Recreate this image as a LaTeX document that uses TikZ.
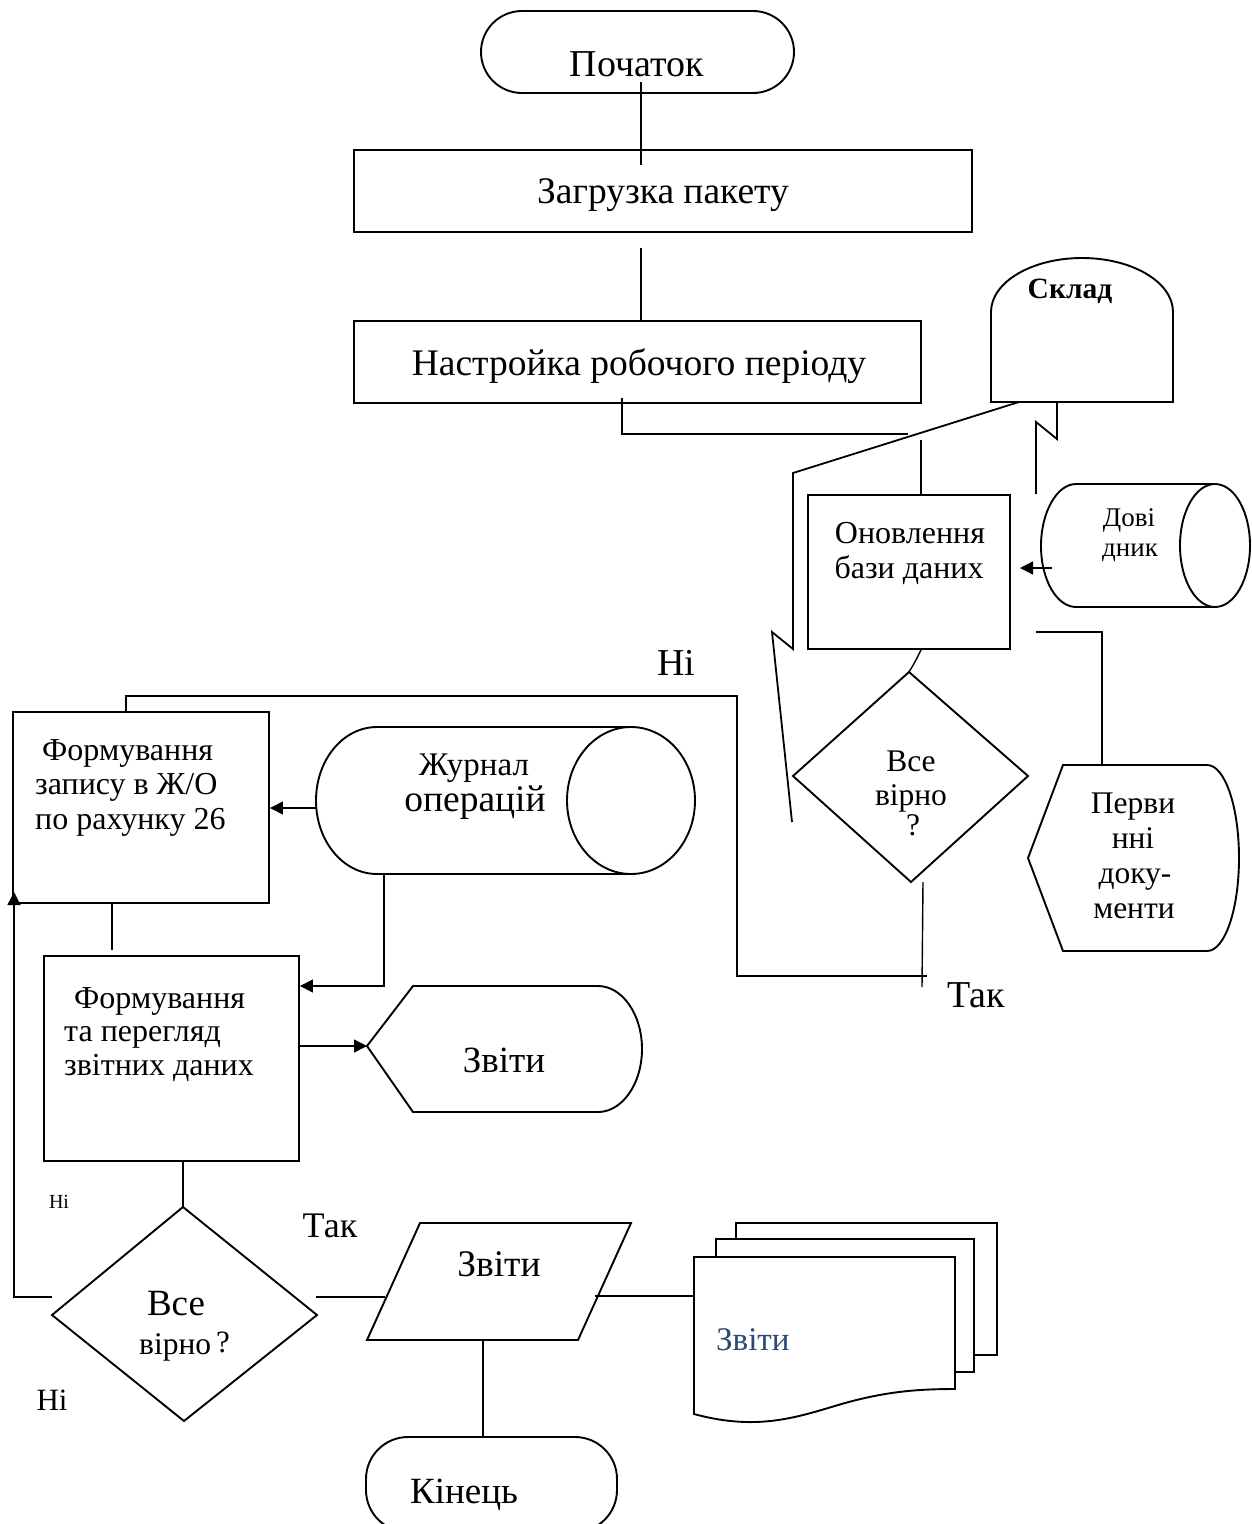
\documentclass[tikz,border=0pt]{standalone}
\usepackage{fontspec}
\setmainfont{Liberation Serif}
\usetikzlibrary{arrows.meta}
\definecolor{doctext}{RGB}{44,72,115}
\begin{document}
\begin{tikzpicture}[x=1pt,y=-1pt,
 shp/.style={draw, line width=1.9pt, line join=miter},
 boxn/.style={shp, inner sep=0pt},
 con/.style={draw, line width=1.4pt},
 conb/.style={draw, line width=1.8pt},
 arr/.style={con, -{Triangle[length=13pt,width=13pt]}},
 t/.style={inner sep=0pt, anchor=base, font=\fontsize{#1}{#1}\selectfont},
 tl/.style={inner sep=0pt, anchor=base west, font=\fontsize{#1}{#1}\selectfont},
]
\useasboundingbox (0,0) rectangle (1252,1524);

% ---------- shapes ----------
\node[boxn, minimum width=313pt, minimum height=82pt, rounded corners=41pt] (start) at (637.5,52) {};
\node[boxn, minimum width=618pt, minimum height=82pt] (zag) at (663,191) {};
\node[boxn, minimum width=567pt, minimum height=82pt] (nast) at (637.5,362) {};
\node[boxn, minimum width=202pt, minimum height=154pt] (onov) at (909,572) {};
\node[boxn, minimum width=256pt, minimum height=191pt] (fz) at (141,807.5) {};
\node[boxn, minimum width=255pt, minimum height=205pt] (fp) at (171.5,1058.5) {};
\node[boxn, minimum width=251pt, minimum height=95pt, rounded corners=42pt] (kin) at (491.5,1484.5) {};

% Sklad (storage, rounded top)
\draw[shp] (991,402) -- (991,312) .. controls (991,282) and (1032,258) .. (1082,258)
  .. controls (1132,258) and (1173,282) .. (1173,312) -- (1173,402) -- cycle;
% Dovidnyk cylinder
\draw[shp] (1215,484) -- (1076,484) .. controls (1057,484) and (1041,512) .. (1041,546)
  .. controls (1041,580) and (1057,607) .. (1076,607) -- (1215,607);
\draw[shp] (1215,545.5) ellipse [x radius=35pt, y radius=61.5pt];
% Zhurnal cylinder
\draw[shp] (631,727) -- (377,727) .. controls (343,727) and (316,760) .. (316,800.5)
  .. controls (316,841) and (343,874) .. (377,874) -- (631,874);
\draw[shp] (631,800.5) ellipse [x radius=64pt, y radius=73.5pt];
% Pervynni documenty (display)
\draw[shp] (1028,858) -- (1063,765) -- (1207,765) .. controls (1225,765) and (1239,807) .. (1239,858)
  .. controls (1239,909) and (1225,951) .. (1207,951) -- (1063,951) -- cycle;
% Zvity display
\draw[shp] (367,1046) -- (413,986) -- (598,986) .. controls (622,986) and (642,1014) .. (642,1049)
  .. controls (642,1084) and (622,1112) .. (598,1112) -- (413,1112) -- cycle;
% Diamond 1
\coordinate (d1t) at (909,672); \coordinate (d1r) at (1028,776);
\coordinate (d1b) at (911,882); \coordinate (d1l) at (793,776);
\draw[shp] (d1t) -- (d1r) -- (d1b) -- (d1l) -- cycle;
% Diamond 2
\coordinate (d2t) at (183,1207); \coordinate (d2r) at (317,1315);
\coordinate (d2b) at (184,1421); \coordinate (d2l) at (52,1315);
\draw[shp] (d2t) -- (d2r) -- (d2b) -- (d2l) -- cycle;
% Parallelogram
\draw[shp] (420,1223) -- (631,1223) -- (578,1340) -- (367,1340) -- cycle;
% Multi-document
\draw[shp, fill=white] (736,1223) rectangle (997,1355);
\draw[shp, fill=white] (716,1239) rectangle (974,1372);
\draw[shp, fill=white] (694,1257) -- (955,1257) -- (955,1389)
  .. controls (915,1389) and (885,1392) .. (845,1403)
  .. controls (800,1416) and (760,1432) .. (694,1414) -- cycle;

% ---------- connectors ----------
\coordinate (a1) at (641,82);   \coordinate (a2) at (641,165);
\draw[con] (a1) -- (a2);
\coordinate (b1) at (641,248);
\draw[con] (b1) -- (nast.north -| b1);
\coordinate (c1) at (622,398); \coordinate (c2) at (622,434); \coordinate (c3) at (908,434);
\draw[conb] (c1) -- (c2) -- (c3);
\coordinate (e1) at (921,440);
\draw[conb] (e1) -- (onov.north -| e1);
\coordinate (s1) at (1019,402); \coordinate (s2) at (793,473); \coordinate (s3) at (793,649);
\coordinate (s4) at (772,632); \coordinate (s5) at (792,822);
\draw[conb] (s1) -- (s2) -- (s3) -- (s4) -- (s5);
\coordinate (r1) at (1057,402); \coordinate (r2) at (1057,439); \coordinate (r3) at (1036,422);
\coordinate (r4) at (1036,494);
\draw[conb] (r1) -- (r2) -- (r3) -- (r4);
\coordinate (v1) at (1052,568); \coordinate (v2) at (1020,568);
\draw[arr] (v1) -- (v2);
\coordinate (p1) at (1036,632); \coordinate (p2) at (1102,632); \coordinate (p3) at (1102,765);
\draw[con] (p1) -- (p2) -- (p3);
\coordinate (o1) at (921,650);
\draw[con] (o1) .. controls (915,662) .. (d1t);
\coordinate (y1) at (923,882); \coordinate (y2) at (922,987);
\draw[con] (y1) -- (y2);
\coordinate (h1) at (927,976); \coordinate (h2) at (737,976); \coordinate (h3) at (737,696);
\coordinate (h4) at (126,696);
\draw[con] (h1) -- (h2) -- (h3) -- (h4) -- (fz.north -| h4);
\coordinate (j1) at (316,808);
\draw[arr] (j1) -- (fz.east |- j1);
\coordinate (j2) at (384,874); \coordinate (j3) at (384,986);
\draw[arr] (j2) -- (j3) -- (fp.east |- j3);
\coordinate (k1) at (112,950);
\draw[con] (fz.south -| k1) -- (k1);
\coordinate (m1) at (299,1046); \coordinate (m2) at (367,1046);
\draw[arr] (m1) -- (m2);
\coordinate (q1) at (183,1161);
\draw[con] (q1) -- (d2t);
\coordinate (l1) at (52,1297); \coordinate (l2) at (14,1297); \coordinate (l3) at (14,892);
\draw[arr] (l1) -- (l2) -- (l3);
\coordinate (g1) at (316,1297); \coordinate (g2) at (385,1297);
\draw[con] (g1) -- (g2);
\coordinate (g3) at (595,1296); \coordinate (g4) at (694,1296);
\draw[con] (g3) -- (g4);
\coordinate (w1) at (483,1340);
\draw[con] (w1) -- (kin.north -| w1);

% ---------- texts ----------
\node[t=38] (tstart) at (637,76) {Початок};
\node[t=37.5] (tzag) at (663,203) {Загрузка пакету};
\node[t=37.5] (tnast) at (639,375) {Настройка робочого періоду};
\node[t=29.5, font=\fontsize{29.5}{29.5}\selectfont\bfseries] (tsklad) at (1070,298) {Склад};
\node[t=32] (tonov1) at (910,543) {Оновлення};
\node[t=32] (tonov2) at (909,578) {бази даних};
\node[t=27] (tdov1) at (1129,526) {Дові};
\node[t=27] (tdov2) at (1130,556) {дник};
\node[t=31.5] (tperv1) at (1133,813) {Перви};
\node[t=31.5] (tperv2) at (1133,848) {нні};
\node[t=31.5] (tperv3) at (1135,883) {доку-};
\node[t=31.5] (tperv4) at (1134,918) {менти};
\node[t=31.5] (tvse1) at (911,771) {Все};
\node[t=31.5] (tvse2) at (911,805) {вірно};
\node[t=31.5] (tvse3) at (913,835) {?};
\node[t=38] (tni1) at (676,675) {Ні};
\node[t=38] (ttak1) at (976,1007) {Так};
\node[tl=32] (tfz1) at (42,760) {Формування};
\node[tl=32] (tfz2) at (35,794) {запису в Ж/О};
\node[tl=32] (tfz3) at (35,829) {по рахунку 26};
\node[t=33] (tzh1) at (474,775) {Журнал};
\node[t=37.5] (tzh2) at (475,811) {операцій};
\node[tl=32] (tfp1) at (74,1008) {Формування};
\node[tl=32] (tfp2) at (64,1041) {та перегляд};
\node[tl=32] (tfp3) at (64,1075) {звітних даних};
\node[t=37] (tzv1) at (504,1072) {Звіти};
\node[t=20] (tni2) at (59,1208) {Ні};
\node[t=37] (tvse4) at (176,1315) {Все};
\node[tl=31.5] (tvse5) at (139,1354) {вірно};
\node[tl=31] (tvse6) at (216,1352) {?};
\node[t=36] (ttak2) at (330,1237) {Так};
\node[t=31] (tni3) at (52,1410) {Ні};
\node[t=37.5] (tzv2) at (499,1276) {Звіти};
\node[tl=33, text=doctext] (tzv3) at (716,1350) {Звіти};
\node[t=37] (tkin) at (464,1503) {Кінець};
\end{tikzpicture}
\end{document}
